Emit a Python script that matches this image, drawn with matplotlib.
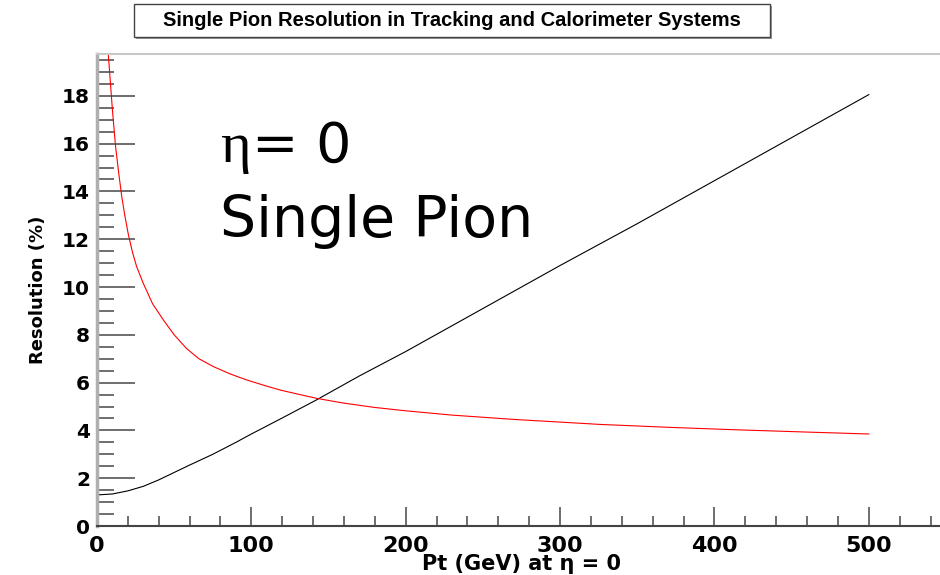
import matplotlib
matplotlib.use('Agg')
import matplotlib.pyplot as plt
from matplotlib.patches import Rectangle
from matplotlib.ticker import MultipleLocator

plt.rcParams['font.family'] = ['DejaVu Sans']

# tracking resolution (black)
track_pt = [0, 10, 20, 30, 40, 50, 60, 75, 90, 100, 120, 142, 170, 200, 250, 300, 350, 400, 450, 500]
track_res = [1.3, 1.34, 1.47, 1.66, 1.93, 2.24, 2.55, 3.0, 3.5, 3.85, 4.52, 5.27, 6.28, 7.3, 9.1,
             10.9, 12.65, 14.45, 16.25, 18.05]

# calorimeter resolution (red)
calo_pt = [6, 7.3, 8.4, 10, 12, 14, 16, 18, 20.3, 23, 25.7, 30, 36, 43, 50, 58.1, 66, 75.4, 86, 97,
           108, 118.6, 130, 142.4, 160, 180, 200, 230, 270, 326, 370, 412, 460, 500]
calo_res = [21.2, 19.75, 18.8, 17.4, 15.9, 14.8, 13.8, 13.0, 12.2, 11.45, 10.85, 10.15, 9.3, 8.62,
            8.0, 7.42, 7.0, 6.67, 6.37, 6.11, 5.89, 5.69, 5.52, 5.34, 5.14, 4.96, 4.82, 4.64, 4.46,
            4.25, 4.13, 4.03, 3.93, 3.85]

fig = plt.figure(figsize=(9.4, 5.75), dpi=100)
ax = fig.add_axes([97 / 940, 49 / 575, 849 / 940, 472 / 575])

ax.plot(track_pt, track_res, color='black', lw=0.8)
ax.plot(calo_pt, calo_res, color='red', lw=0.8)

ax.set_xlim(0, 550)
ax.set_ylim(0, 19.75)
ax.xaxis.set_major_locator(MultipleLocator(100))
ax.xaxis.set_minor_locator(MultipleLocator(20))
ax.yaxis.set_major_locator(MultipleLocator(2))
ax.yaxis.set_minor_locator(MultipleLocator(0.5))

ax.tick_params(axis='y', which='major', direction='in', length=27, width=1.2, color='#555555',
               labelsize=14.5, pad=5)
ax.tick_params(axis='y', which='minor', direction='in', length=12, width=1.2, color='#555555')
ax.tick_params(axis='x', which='major', direction='in', length=14, width=1.2, color='#555555',
               labelsize=16, pad=7)
ax.tick_params(axis='x', which='minor', direction='in', length=7, width=1.2, color='#555555')
for lab in ax.get_xticklabels() + ax.get_yticklabels():
    lab.set_fontweight('bold')

ax.spines['left'].set_color('#b0b0b0')
ax.spines['left'].set_linewidth(2.5)
ax.spines['top'].set_color('#c8c8c8')
ax.spines['top'].set_linewidth(1.5)
ax.spines['bottom'].set_color('#444444')
ax.spines['bottom'].set_linewidth(1.5)
ax.spines['right'].set_visible(False)

ax.set_xlabel('Pt (GeV) at η = 0', fontsize=15, fontweight='bold', labelpad=-1)
ax.set_ylabel('Resolution (%)', fontsize=13, fontweight='bold', labelpad=11)

# big annotation
fig.text(220 / 940, 1 - 162 / 575, 'η', family='Liberation Serif', fontsize=42, va='baseline')
fig.text(252 / 940, 1 - 162 / 575, '= 0', fontsize=40, va='baseline')
fig.text(220 / 940, 1 - 237 / 575, 'Single Pion', fontsize=41, va='baseline')

# title box
fig.patches.append(Rectangle((136 / 940, 1 - 39 / 575), 636 / 940, 33 / 575,
                             transform=fig.transFigure, facecolor='#999999', edgecolor='none'))
fig.patches.append(Rectangle((134 / 940, 1 - 37 / 575), 636 / 940, 33 / 575,
                             transform=fig.transFigure, facecolor='white', edgecolor='#444444', lw=1))
fig.text(452 / 940, 1 - 21 / 575, 'Single Pion Resolution in Tracking and Calorimeter Systems',
         ha='center', va='center', fontsize=14.5, fontweight='bold', family='Liberation Sans')

fig.savefig('out.png', dpi=100)
